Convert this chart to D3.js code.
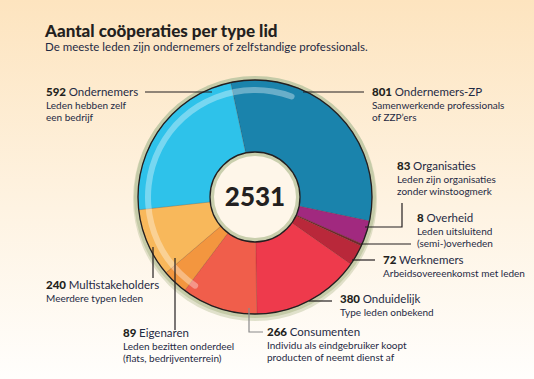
<!DOCTYPE html>
<html>
<head>
<meta charset="utf-8">
<script src="https://cdn.jsdelivr.net/npm/d3@7"></script>
<style>
  html, body { margin: 0; padding: 0; }
  body { width: 534px; height: 379px; overflow: hidden; }
  svg { display: block; font-family: Lato, "Noto Sans", sans-serif; }
</style>
</head>
<body>
<svg id="chart" width="534" height="379"></svg>
<script>
// ---- data ----
const categories = ["Ondernemers-ZP", "Organisaties", "Overheid", "Werknemers", "Onduidelijk",
                    "Consumenten", "Eigenaren", "Multistakeholders", "Ondernemers"];
const values = [801, 83, 8, 72, 380, 266, 89, 240, 592];
const descriptions = [
  ["Samenwerkende professionals", "of ZZP’ers"],
  ["Leden zijn organisaties", "zonder winstoogmerk"],
  ["Leden uitsluitend", "(semi-)overheden"],
  ["Arbeidsovereenkomst met leden"],
  ["Type leden onbekend"],
  ["Individu als eindgebruiker koopt", "producten of neemt dienst af"],
  ["Leden bezitten onderdeel", "(flats, bedrijventerrein)"],
  ["Meerdere typen leden"],
  ["Leden hebben zelf", "een bedrijf"]
];
const title = "Aantal coöperaties per type lid";
const subtitle = "De meeste leden zijn ondernemers of zelfstandige professionals.";

// ---- styles / layout ----
const colors = ["#1a83ac", "#a1297f", "#6f2a2c", "#b9283a", "#ee3a4c",
                "#f05e4b", "#f3963f", "#f8b85b", "#2ec2ea"];
const cx = 255, cy = 197, R = 117, holeR = 45;
// label anchor (x, baseline y) and leader polyline per category
const labelLayout = [
  { x: 372, y: 96,  leader: [[303, 92], [364, 92]] },
  { x: 397, y: 170, leader: [[365, 227], [402, 227], [402, 203]] },
  { x: 417, y: 222, leader: [[361, 244], [411, 244]] },
  { x: 383, y: 264, leader: [[352, 260], [375, 260]] },
  { x: 340, y: 303, leader: [[309, 301], [332, 301]] },
  { x: 267, y: 336, leader: [[249, 308], [249, 332], [263, 332]], grey: true },
  { x: 123, y: 337, leader: [[175, 258], [175, 330]] },
  { x: 46,  y: 289, leader: [[153, 247], [153, 278]] },
  { x: 46,  y: 96,  leader: [[145, 92], [212, 92]] }
];

const svg = d3.select("#chart");
const defs = svg.append("defs");
const bg = defs.append("linearGradient").attr("id", "bg").attr("x1", 0).attr("y1", 0).attr("x2", 0).attr("y2", 1);
bg.append("stop").attr("offset", "0%").attr("stop-color", "#fde4bf");
bg.append("stop").attr("offset", "55%").attr("stop-color", "#fef3e2");
bg.append("stop").attr("offset", "100%").attr("stop-color", "#fffefc");
svg.append("rect").attr("width", 534).attr("height", 379).attr("fill", "url(#bg)");

// title
svg.append("text").attr("x", 45).attr("y", 37).attr("font-size", 17).attr("font-weight", 900)
  .attr("fill", "#231f20").text(title);
svg.append("text").attr("x", 45).attr("y", 51).attr("font-size", 11.5).attr("fill", "#1f2a44").text(subtitle);

// donut
const total = d3.sum(values);
const startAngle = -2 * Math.PI * 0.0335;
const pie = d3.pie().sort(null).value(d => d)
  .startAngle(startAngle).endAngle(startAngle + 2 * Math.PI);
const arcs = pie(values);
const arc = d3.arc().innerRadius(holeR - 2).outerRadius(R);

const g = svg.append("g").attr("transform", `translate(${cx},${cy})`);
// outer shadow ring
g.append("circle").attr("cx", 0).attr("cy", 2).attr("r", R + 5).attr("fill", "#c2c8a4").attr("opacity", 0.5);
g.append("circle").attr("r", R + 4).attr("fill", "#c5cba8");
g.selectAll("path.slice").data(arcs).join("path").attr("class", "slice")
  .attr("d", arc).attr("fill", (d, i) => colors[i])
  .attr("stroke", "rgba(80,20,20,0.25)").attr("stroke-width", 0.6);
g.append("circle").attr("r", R).attr("fill", "none").attr("stroke", "#231f20").attr("stroke-width", 1.3);

// gloss highlight
const gloss = d3.arc().innerRadius(104).outerRadius(110).cornerRadius(3)
  .startAngle(-Math.PI * 0.82).endAngle(Math.PI * 0.12);
g.append("path").attr("d", gloss()).attr("fill", "#ffffff").attr("opacity", 0.35);

// hole
g.append("circle").attr("r", holeR).attr("fill", "#c9cfad").attr("stroke", "#231f20").attr("stroke-width", 1.3);
g.append("circle").attr("r", holeR - 4).attr("fill", "#fef6e9");
g.append("text").attr("x", 0).attr("y", 9).attr("text-anchor", "middle")
  .attr("font-size", 26).attr("font-weight", 900).attr("fill", "#231f20").text(total);

// leaders
const line = d3.line();
svg.selectAll("path.leader").data(labelLayout).join("path").attr("class", "leader")
  .attr("d", d => line(d.leader)).attr("fill", "none")
  .attr("stroke", d => d.grey ? "#8a8a8a" : "#231f20").attr("stroke-width", 1.2);

// labels
const lbl = svg.selectAll("g.lbl").data(categories).join("g").attr("class", "lbl");
lbl.each(function (c, i) {
  const L = labelLayout[i];
  const t = d3.select(this).append("text").attr("x", L.x).attr("y", L.y).attr("font-size", 11.5);
  t.append("tspan").attr("font-weight", 900).attr("fill", "#231f20").text(values[i] + " ");
  t.append("tspan").attr("fill", "#1f2a44").text(c);
  descriptions[i].forEach((line, k) => {
    d3.select(this).append("text").attr("x", L.x).attr("y", L.y + 12.5 * (k + 1))
      .attr("font-size", 10).attr("fill", "#1f2a44").text(line);
  });
});
</script>
</body>
</html>
